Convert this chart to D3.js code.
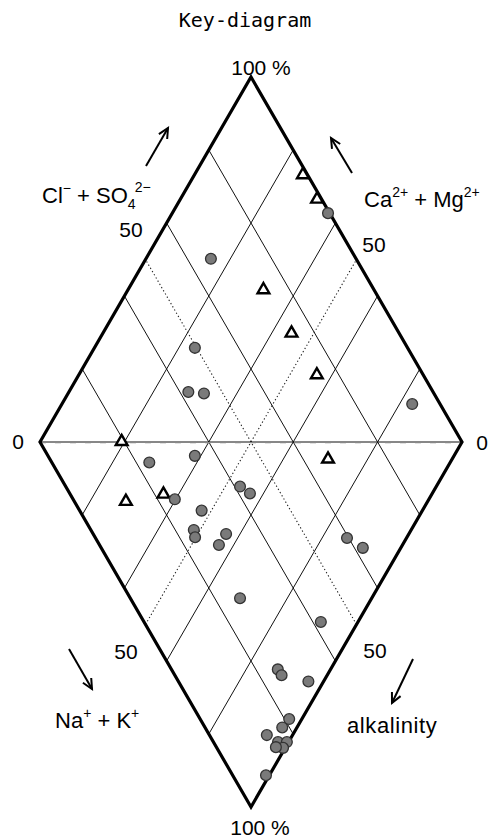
<!DOCTYPE html>
<html>
<head>
<meta charset="utf-8">
<script src="https://cdn.jsdelivr.net/npm/d3@7"></script>
<style>
  html, body { margin: 0; padding: 0; background: #fff; }
  svg { display: block; }
  text { font-family: "Liberation Sans", Arial, sans-serif; fill: #000; }
</style>
</head>
<body>
<svg id="chart" width="489" height="838"></svg>
<script>
// Sample composition in meq% : Ca2+ + Mg2+ and Cl- + SO4 2-
const circleCaMg  = [84.6, 76.2, 71.7, 67.8, 17.0, 71.3, 61.4, 46.5, 43.2, 60.2, 52.3, 51.5, 50.2, 43.3, 43.5,
                     14.1,  9.0, 31.2,  8.8, 12.5, 10.8,  3.6,  3.0,  3.5,  6.1,  2.5,  0.4,  0.5,  2.3,  0.8, 63.1];
const circleClSO4 = [65.6, 49.6, 42.0, 45.5, 93.4, 23.1, 34.8, 41.3, 42.7, 24.1, 28.9, 24.4, 23.7, 31.5, 28.3,
                     59.6, 62.0, 26.0, 41.9, 25.2, 25.3, 30.8, 21.1, 18.3, 13.6, 15.3, 17.4, 15.7, 14.1,  7.9, 99.6];
const triCaMg     = [67.9, 55.3, 43.6, 80.7, 29.4, 63.6, 71.5, 74.3, 67.6];
const triClSO4    = [73.8, 74.5, 74.8, 19.4, 65.9, 22.1, 12.2, 98.9, 98.9];

const gridTicks = [20, 40, 60, 80];
const midTick = 50;

const svg = d3.select("#chart");

// Diamond projection: horizontal position from (anion - cation), vertical from their sum
const xs = d3.scaleLinear().domain([-100, 100]).range([40, 462]);
const ys = d3.scaleLinear().domain([0, 200]).range([807, 77]);
const pos = (ca, cl) => [xs(cl - ca), ys(ca + cl)];
const line = d3.line();

const grid = svg.append("g").attr("fill", "none");
// solid grid lines, parallel to the edges
gridTicks.forEach(t => {
  grid.append("path").attr("d", line([pos(t, 0), pos(t, 100)]))
    .attr("stroke", "#111").attr("stroke-width", 1);
  grid.append("path").attr("d", line([pos(0, t), pos(100, t)]))
    .attr("stroke", "#111").attr("stroke-width", 1);
});
// dotted 50 % lines
[[pos(midTick, 0), pos(midTick, 100)], [pos(0, midTick), pos(100, midTick)]].forEach(seg => {
  grid.append("path").attr("d", line(seg))
    .attr("stroke", "#222").attr("stroke-width", 1.1).attr("stroke-dasharray", "1.3,2.4");
});
// horizontal line between the side corners
grid.append("path").attr("d", line([pos(100, 0), pos(0, 100)]))
  .attr("stroke", "#111").attr("stroke-width", 1);
grid.append("path").attr("d", line([pos(100, 0), pos(0, 100)]))
  .attr("stroke", "#888").attr("stroke-width", 1.2).attr("stroke-dasharray", "6,9")
  .attr("transform", "translate(0,0.6)");

// outline
svg.append("path")
  .attr("d", line([pos(0, 0), pos(100, 0), pos(100, 100), pos(0, 100)]) + "Z")
  .attr("fill", "none").attr("stroke", "#000").attr("stroke-width", 3.2)
  .attr("stroke-linejoin", "miter");

// samples
const tri = d3.symbol(d3.symbolTriangle, 60);
svg.append("g").selectAll("path")
  .data(triCaMg.map((c, i) => [c, triClSO4[i]]))
  .join("path")
  .attr("d", tri)
  .attr("transform", d => `translate(${pos(d[0], d[1])})`)
  .attr("fill", "#fff").attr("stroke", "#000").attr("stroke-width", 2.4);

svg.append("g").selectAll("circle")
  .data(circleCaMg.map((c, i) => [c, circleClSO4[i]]))
  .join("circle")
  .attr("cx", d => pos(d[0], d[1])[0])
  .attr("cy", d => pos(d[0], d[1])[1])
  .attr("r", 5.4)
  .attr("fill", "#7a7a7a").attr("stroke", "#333").attr("stroke-width", 1.3);

// title and scale labels
svg.append("text").attr("x", 245).attr("y", 27).attr("text-anchor", "middle")
  .style("font-family", "'DejaVu Sans Mono', monospace").style("font-size", "20px")
  .text("Key-diagram");

const num = (x, y, s) => svg.append("text").attr("x", x).attr("y", y)
  .attr("text-anchor", "middle").style("font-size", "21px").text(s);
num(261, 75, "100 %");
num(260, 835, "100 %");
num(18, 449, "0");
num(482, 450, "0");
num(131, 237, "50");
num(374, 252, "50");
num(126, 659, "50");
num(375, 658, "50");

// ion group labels with super/subscripts
function ionLabel(x, y, parts) {
  const t = svg.append("text").attr("x", x).attr("y", y).style("font-size", "22px");
  parts.forEach(p => {
    const s = t.append("tspan").text(p.t);
    if (p.small) s.style("font-size", "14px");
    if (p.dy) s.attr("dy", p.dy);
    if (p.dx) s.attr("dx", p.dx);
  });
  return t;
}
ionLabel(42, 203, [
  {t: "Cl"}, {t: "−", small: true, dy: -10}, {t: " + SO", dy: 10},
  {t: "4", small: true, dy: 6}, {t: "2−", small: true, dy: -17, dx: -1}
]);
ionLabel(364, 207, [
  {t: "Ca"}, {t: "2+", small: true, dy: -10}, {t: " + Mg", dy: 10}, {t: "2+", small: true, dy: -10}
]);
ionLabel(55, 728, [
  {t: "Na"}, {t: "+", small: true, dy: -10}, {t: " + K", dy: 10}, {t: "+", small: true, dy: -10}
]);
svg.append("text").attr("x", 347).attr("y", 733).style("font-size", "22px")
  .style("letter-spacing", "0.6px").text("alkalinity");

// direction arrows
function arrow(x1, y1, x2, y2) {
  const a = Math.atan2(y2 - y1, x2 - x1), h = 11, w = 0.45;
  const g = svg.append("g").attr("stroke", "#000").attr("stroke-width", 2).attr("fill", "none");
  g.append("path").attr("d", line([[x1, y1], [x2, y2]]));
  g.append("path").attr("d", line([
    [x2 - h * Math.cos(a - w), y2 - h * Math.sin(a - w)],
    [x2, y2],
    [x2 - h * Math.cos(a + w), y2 - h * Math.sin(a + w)]
  ]));
}
arrow(146, 166, 168, 128);
arrow(352, 173, 331, 138);
arrow(69, 649, 92, 689);
arrow(413, 659, 392, 703);
</script>
</body>
</html>
